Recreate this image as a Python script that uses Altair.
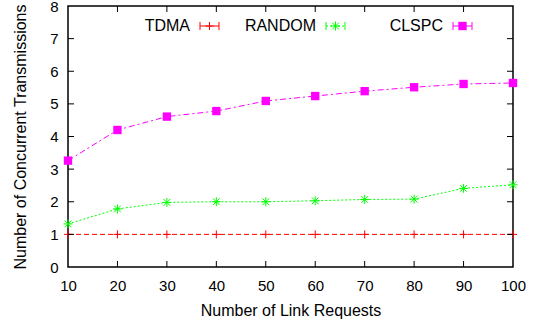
import altair as alt
import pandas as pd

# ---- data ----
link_requests = [10, 20, 30, 40, 50, 60, 70, 80, 90, 100]
tdma = [1, 1, 1, 1, 1, 1, 1, 1, 1, 1]
random_vals = [1.32, 1.78, 1.98, 2.0, 2.0, 2.03, 2.07, 2.08, 2.41, 2.52]
clspc = [3.26, 4.20, 4.61, 4.78, 5.09, 5.24, 5.39, 5.51, 5.61, 5.64]
series_names = ["TDMA", "RANDOM", "CLSPC"]
x_ticks = [10, 20, 30, 40, 50, 60, 70, 80, 90, 100]
y_ticks = [0, 1, 2, 3, 4, 5, 6, 7, 8]

W, H = 445, 261
FONT = "Liberation Sans"

PLUS = "M-1,0L1,0M0,-1L0,1"
STAR = "M-1,0L1,0M0,-1L0,1M-0.75,-0.75L0.75,0.75M-0.75,0.75L0.75,-0.75"

styles = {
    "TDMA": dict(color="#ff0000", dash=[5, 3], shape=PLUS, size=64, filled=False),
    "RANDOM": dict(color="#00ff00", dash=[2, 2], shape=STAR, size=81, filled=False),
    "CLSPC": dict(color="#ff00ff", dash=[6, 3, 2, 3], shape="square", size=70, filled=True),
}
values = {"TDMA": tdma, "RANDOM": random_vals, "CLSPC": clspc}

xs = alt.Scale(domain=[10, 100], nice=False, zero=False)
ys = alt.Scale(domain=[0, 8], nice=False)

x_axis = alt.Axis(values=x_ticks, ticks=False, grid=False, domain=False, labelFlush=False,
                  labelFontSize=15, labelPadding=11, labelColor="black", labelFont=FONT,
                  title="Number of Link Requests", titleFontSize=16, titleFontWeight="normal",
                  titleColor="black", titleFont=FONT, titleX=W / 2, titleY=43,
                  titleBaseline="middle", titleAlign="center")
y_axis = alt.Axis(values=y_ticks, ticks=False, grid=False, domain=False, labelFlush=False,
                  labelFontSize=15, labelPadding=10, labelColor="black", labelFont=FONT,
                  title="Number of Concurrent Transmissions", titleFontSize=16,
                  titleFontWeight="normal", titleColor="black", titleFont=FONT,
                  titleX=-48, titleY=H / 2, titleAngle=270, titleBaseline="middle",
                  titleAlign="center")

def X(field):
    return alt.X(field, scale=xs, axis=x_axis)

def Y(field):
    return alt.Y(field, scale=ys, axis=y_axis)

layers = []
for name in series_names:
    st = styles[name]
    df = pd.DataFrame({"x": link_requests, "y": values[name]})
    base = alt.Chart(df)
    line = base.mark_line(color=st["color"], strokeDash=st["dash"], strokeWidth=1).encode(
        x=X("x:Q"), y=Y("y:Q"))
    if st["filled"]:
        pts = base.mark_point(shape=st["shape"], size=st["size"], filled=True,
                              color=st["color"], opacity=1)
    else:
        pts = base.mark_point(shape=st["shape"], size=st["size"], filled=False,
                              color=st["color"], strokeWidth=1, opacity=1)
    pts = pts.encode(x=X("x:Q"), y=Y("y:Q"))
    layers += [line, pts]

# ---- inward ticks on all four sides ----
xt = pd.DataFrame({"x": x_ticks[1:-1]})
yt = pd.DataFrame({"y": y_ticks[1:-1]})
tick_col = "black"
layers.append(alt.Chart(xt).mark_rule(color=tick_col, strokeWidth=1).encode(
    x=X("x:Q"), y=alt.value(H), y2=alt.value(H - 6)))
layers.append(alt.Chart(xt).mark_rule(color=tick_col, strokeWidth=1).encode(
    x=X("x:Q"), y=alt.value(0), y2=alt.value(6)))
layers.append(alt.Chart(yt).mark_rule(color=tick_col, strokeWidth=1).encode(
    y=Y("y:Q"), x=alt.value(0), x2=alt.value(6)))
layers.append(alt.Chart(yt).mark_rule(color=tick_col, strokeWidth=1).encode(
    y=Y("y:Q"), x=alt.value(W), x2=alt.value(W - 6)))

# ---- gnuplot-style legend ----
LY = 20
leg_text_right = {"TDMA": 122, "RANDOM": 248, "CLSPC": 375}
one = pd.DataFrame({"a": [0]})
for name in series_names:
    st = styles[name]
    tx = leg_text_right[name]
    x1, x2 = tx + 10, tx + 29
    layers.append(alt.Chart(one).mark_text(align="right", baseline="middle", fontSize=16,
                                           font=FONT, color="black", text=name).encode(
        x=alt.value(tx), y=alt.value(LY)))
    layers.append(alt.Chart(one).mark_rule(color=st["color"], strokeWidth=1,
                                           strokeDash=[2, 2] if name == "RANDOM" else [1, 0]).encode(
        x=alt.value(x1), x2=alt.value(x2), y=alt.value(LY)))
    for cx in (x1, x2):
        layers.append(alt.Chart(one).mark_rule(color=st["color"], strokeWidth=1).encode(
            x=alt.value(cx), y=alt.value(LY - 4), y2=alt.value(LY + 4)))
    layers.append(alt.Chart(one).mark_point(shape=st["shape"], size=st["size"],
                                            filled=st["filled"], color=st["color"],
                                            strokeWidth=1, opacity=1).encode(
        x=alt.value((x1 + x2) / 2), y=alt.value(LY)))

chart = alt.layer(*layers).properties(
    width=W, height=H,
    autosize=alt.AutoSizeParams(type="none"),
    padding={"left": 68, "top": 6, "right": 25, "bottom": 54},
).configure(background="white", view={"stroke": "black", "strokeWidth": 1.5})

chart.save("out.html", embed_options={"renderer": "svg", "actions": False})
